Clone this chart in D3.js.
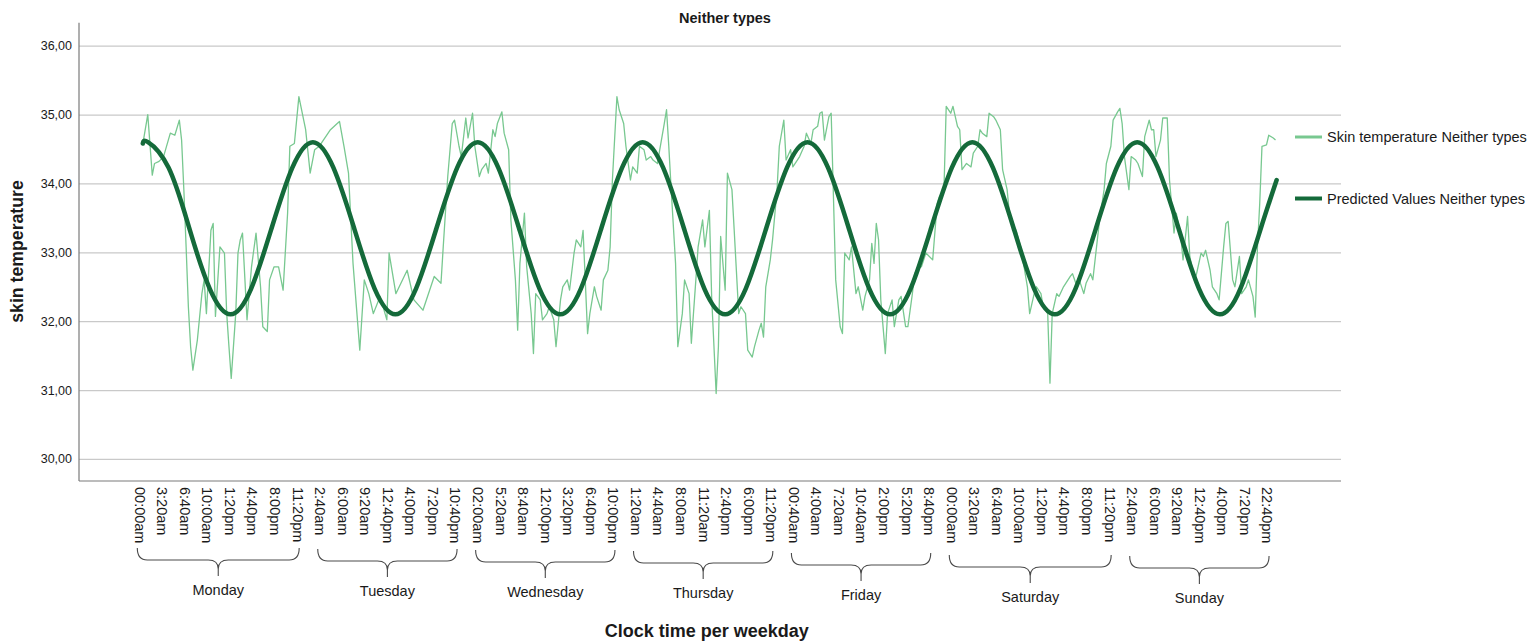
<!DOCTYPE html>
<html><head><meta charset="utf-8">
<script src="https://cdn.jsdelivr.net/npm/d3@7"></script>
<style>
body{margin:0;background:#fff}
svg{display:block}
text{font-family:"Liberation Sans",Arial,sans-serif;fill:#1a1a1a}
</style>
</head><body>
<svg id="chart" width="1533" height="644"></svg>
<script>
// ---------------- DATA ----------------
const chartTitle = "Neither types";
const yTitle = "skin temperature";
const xTitle = "Clock time per weekday";
const yTicks = [30, 31, 32, 33, 34, 35, 36];
const seriesNames = ["Skin temperature Neither types", "Predicted Values Neither types"];
const dayNames = ["Monday", "Tuesday", "Wednesday", "Thursday", "Friday", "Saturday", "Sunday"];
// category tick labels (one every 10 categories of 20 minutes)
const monLabels = ["00:00am","3:20am","6:40am","10:00am","1:20pm","4:40pm","8:00pm","11:20pm"];
const tueLabels = ["2:40am","6:00am","9:20am","12:40pm","4:00pm","7:20pm","10:40pm"];
const wedLabels = ["02:00am","5:20am","8:40am","12:00pm","3:20pm","6:40pm","10:00pm"];
const thuLabels = ["1:20am","4:40am","8:00am","11:20am","2:40pm","6:00pm","11:20pm"];
const friLabels = ["00:40am","4:00am","7:20am","10:40am","2:00pm","5:20pm","8:40pm"];
const satLabels = ["00:00am","3:20am","6:40am","10:00am","1:20pm","4:40pm","8:00pm","11:20pm"];
const sunLabels = ["2:40am","6:00am","9:20am","12:40pm","4:00pm","7:20pm","22:40pm"];
const dayLabels = [monLabels, tueLabels, wedLabels, thuLabels, friLabels, satLabels, sunLabels];

// skin temperature: [category index, value]
const skinMon = [[1,34.61],[3,35.0],[5,34.12],[6,34.29],[8,34.32],[10,34.39],[13,34.73],[15,34.70],[17,34.92],[18,34.63],[19,33.91],[20,33.08],[21,32.21],[22,31.63],[23,31.29],[25,31.73],[27,32.40],[28,32.60],[29,32.11],[31,33.32],[32,33.42],[33,32.07],[35,33.08],[37,32.99],[38,32.11],[39,31.63],[40,31.17],[42,32.11],[43,32.99],[44,33.18],[45,33.28],[47,32.02],[49,32.79],[51,33.28],[53,32.50],[54,31.92],[56,31.85],[57,32.60],[59,32.79],[61,32.79],[63,32.45],[65,33.57],[66,34.54],[68,34.58],[70,35.26]];
const skinTue = [[73,34.78],[75,34.15],[77,34.49],[79,34.54],[84,34.78],[87,34.87],[88,34.90],[90,34.54],[92,34.15],[94,32.84],[97,31.58],[99,32.60],[101,32.40],[103,32.11],[106,32.36],[109,32.02],[110,32.99],[113,32.40],[118,32.74],[121,32.31],[125,32.16],[130,32.65],[133,32.55],[134,33.08],[136,34.10],[138,34.87],[139,34.92],[141,34.54],[142,34.39]];
const skinWed = [[144,34.95],[145,34.66],[147,35.02],[148,34.54],[150,34.10],[151,34.20],[153,34.29],[154,34.15],[156,34.78],[157,34.68],[158,34.87],[160,35.04],[161,34.73],[163,34.49],[164,33.47],[166,32.60],[167,31.87],[168,32.84],[170,33.57],[171,32.79],[173,32.11],[174,31.53],[175,32.40],[177,32.31],[178,32.02],[180,32.11],[181,32.21],[183,32.02],[184,31.63],[186,32.31],[187,32.50],[189,32.60],[190,32.45],[192,32.99],[193,33.18],[195,33.08],[196,33.32],[198,31.82],[199,32.11],[201,32.50],[202,32.36],[204,32.16],[205,32.60],[207,32.74],[208,33.08],[209,34.05],[211,35.26],[212,35.07],[214,34.87],[215,34.54]];
const skinThu = [[217,34.05],[218,34.24],[220,34.15],[221,34.54],[223,34.49],[224,34.34],[226,34.39],[227,34.34],[229,34.29],[230,34.49],[232,34.87],[233,35.07],[234,34.54],[235,33.95],[237,32.84],[238,31.63],[240,32.11],[241,32.60],[243,32.40],[244,31.68],[246,32.60],[247,33.08],[249,33.47],[250,33.08],[252,33.61],[253,32.36],[255,30.95],[256,31.63],[257,33.23],[259,32.45],[260,34.15],[262,33.91],[263,33.32],[265,32.11],[266,32.21],[268,32.11],[269,31.58],[271,31.48],[272,31.63],[274,31.87],[275,31.97],[276,31.77],[277,32.50],[279,32.89],[280,33.18],[282,33.91],[283,34.54],[285,34.92],[286,34.34]];
const skinFri = [[288,34.49],[289,34.24],[291,34.34],[292,34.39],[294,34.54],[295,34.73],[297,34.58],[298,34.78],[300,34.83],[301,35.02],[302,35.04],[303,34.63],[305,34.97],[306,35.02],[307,33.81],[308,32.60],[310,31.92],[311,31.82],[312,32.99],[314,32.89],[315,33.08],[317,32.40],[318,32.50],[320,32.16],[321,32.36],[323,32.60],[324,33.13],[325,32.84],[326,33.42],[327,33.18],[328,32.31],[330,31.53],[331,32.11],[333,32.31],[334,31.92],[336,32.31],[337,32.36],[339,31.92],[340,31.92],[342,32.40],[343,32.69],[345,32.79],[346,32.79],[348,32.99],[351,32.89],[353,33.71],[354,33.81],[356,33.91],[357,35.12],[359,35.02]];
const skinSat = [[360,35.12],[362,34.83],[363,34.78],[364,34.20],[366,34.29],[368,34.24],[369,34.44],[371,34.54],[372,34.78],[373,34.73],[375,34.68],[376,35.02],[378,34.97],[379,34.92],[381,34.78],[382,34.20],[384,33.91],[385,33.57],[387,33.37],[388,33.32],[390,33.08],[391,32.89],[393,32.50],[394,32.11],[396,32.40],[397,32.50],[399,32.40],[400,32.21],[402,32.11],[403,31.10],[404,32.11],[406,32.40],[407,32.36],[409,32.50],[410,32.55],[412,32.65],[413,32.69],[415,32.50],[416,32.60],[418,32.40],[419,32.55],[421,32.69],[422,32.60],[424,33.18],[425,33.47],[427,33.91],[428,34.29],[430,34.54],[431,34.92]];
const skinSun = [[433,35.04],[434,35.09],[435,34.87],[436,34.39],[438,33.91],[439,34.39],[441,34.34],[442,34.29],[444,34.10],[445,34.68],[447,34.92],[448,34.78],[449,34.78],[450,34.39],[452,34.63],[453,34.95],[455,34.95],[456,34.05],[458,33.28],[459,33.57],[461,33.23],[462,32.89],[464,33.52],[465,32.94],[467,32.60],[468,32.69],[470,32.99],[471,32.94],[472,33.03],[474,32.74],[475,32.50],[477,32.40],[478,32.31],[480,33.08],[481,33.42],[482,33.45],[484,32.60],[485,32.50],[487,32.94],[488,32.40],[490,32.50],[491,32.60],[493,32.36],[494,32.06],[495,33.08],[496,33.71],[497,34.54],[499,34.56],[500,34.70],[502,34.66],[503,34.63]];

// predicted (cosinor fit) values read at category positions
const predIdx = [0.8,3.1,12.2,21.4,30.5,39.7,48.8,57.9,67.1,76.2,85.3,94.5,103.6,112.8,121.9,131.0,140.2,149.3,158.4,167.6,176.7,185.9,195.0,204.1,213.3,222.4,231.5,240.7,249.8,259.0,268.1,277.2,286.4,295.5,304.6,313.8,322.9,332.1,341.2,350.3,359.5,368.6,377.7,386.9,396.0,405.2,414.3,423.4,432.6,441.7,450.8,460.0,469.1,478.3,487.4,496.5,503.5];
const predVal = [34.58,
  34.60,34.23,33.35,32.47,32.10,32.47,33.35,34.23,
  34.60,34.23,33.35,32.47,32.10,32.47,33.35,34.23,
  34.60,34.23,33.35,32.47,32.10,32.47,33.35,34.23,
  34.60,34.23,33.35,32.47,32.10,32.47,33.35,34.23,
  34.60,34.23,33.35,32.47,32.10,32.47,33.35,34.23,
  34.60,34.23,33.35,32.47,32.10,32.47,33.35,34.23,
  34.60,34.23,33.35,32.47,32.10,32.47,33.35,
  34.05];

// ---------------- LAYOUT ----------------
const svg = d3.select("#chart");
const P = {left: 79, right: 1341, top: 22.7, bottom: 481};
const x = d3.scaleLinear().domain([0, 504]).range([141, 141 + 504 * 2.2555]);
const y = d3.scaleLinear().domain([29.68, 36.334]).range([P.bottom, P.top]);
const labelShift = 1.7;
const lightGreen = "#78c890", darkGreen = "#146a3a";

svg.append("rect").attr("width", 1533).attr("height", 644).attr("fill", "#fff");

// y axis with gridlines
const yAxis = d3.axisLeft(y).tickValues(yTicks)
  .tickSize(-(P.right - P.left)).tickPadding(7)
  .tickFormat(d => d3.format(".2f")(d).replace(".", ","));
const gy = svg.append("g").attr("transform", `translate(${P.left},0)`).call(yAxis);
gy.select(".domain").remove();
gy.selectAll(".tick line").attr("stroke", "#c9c9c9").attr("stroke-width", 1.2);
gy.selectAll(".tick text").style("font-size", "12.5px").attr("fill", "#222")
  .style("font-family", '"Liberation Sans",Arial,sans-serif');

// axis lines
svg.append("line").attr("x1", P.left).attr("x2", P.left).attr("y1", P.top).attr("y2", P.bottom)
  .attr("stroke", "#7a7a7a").attr("stroke-width", 1.2);
svg.append("line").attr("x1", P.left).attr("x2", P.right).attr("y1", P.bottom).attr("y2", P.bottom)
  .attr("stroke", "#7a7a7a").attr("stroke-width", 1.2);

// x axis tick labels
const allLabels = dayLabels.flat();
const tickIdx = allLabels.map((_, k) => k * 10);
const xAxis = d3.axisBottom(x).tickValues(tickIdx).tickSize(0).tickPadding(0)
  .tickFormat((d, k) => allLabels[k]);
const gx = svg.append("g").attr("transform", `translate(0,${P.bottom})`).call(xAxis);
gx.select(".domain").remove();
gx.selectAll(".tick text")
  .attr("transform", "rotate(90)")
  .attr("x", 6).attr("y", labelShift).attr("dy", "0.35em")
  .attr("text-anchor", "start")
  .attr("fill", "#1a1a1a")
  .style("font-size", "14.5px")
  .style("font-family", '"Liberation Sans",Arial,sans-serif');

// day braces
const braceTop = [548, 549, 550, 551, 553, 555, 556];
let start = 0;
dayLabels.forEach((labs, d) => {
  const x1 = x(start * 10) - labelShift - 2;
  const x2 = x((start + labs.length - 1) * 10) - labelShift + 2;
  const cx = (x1 + x2) / 2;
  const y0 = braceTop[d], yh = y0 + 12, yt = y0 + 28;
  const p = d3.path();
  p.moveTo(x1, y0);
  p.quadraticCurveTo(x1, yh, x1 + 10, yh);
  p.lineTo(cx - 10, yh);
  p.quadraticCurveTo(cx, yh, cx, yh + 9);
  p.lineTo(cx, yt);
  p.moveTo(cx, yh + 9);
  p.quadraticCurveTo(cx, yh, cx + 10, yh);
  p.lineTo(x2 - 10, yh);
  p.quadraticCurveTo(x2, yh, x2, y0);
  svg.append("path").attr("d", p.toString()).attr("fill", "none")
    .attr("stroke", "#4a4a4a").attr("stroke-width", 1.1);
  svg.append("text").attr("x", cx).attr("y", yt + 14).attr("dy", "0.35em")
    .attr("text-anchor", "middle").style("font-size", "14.5px").text(dayNames[d]);
  start += labs.length;
});

// lines
const skin = [].concat(skinMon, skinTue, skinWed, skinThu, skinFri, skinSat, skinSun);
svg.append("path").datum(skin)
  .attr("fill", "none").attr("stroke", lightGreen).attr("stroke-width", 1.3)
  .attr("stroke-linejoin", "round")
  .attr("d", d3.line().x(d => x(d[0])).y(d => y(d[1])));

const pred = predIdx.map((v, k) => [v, predVal[k]]);
svg.append("path").datum(pred)
  .attr("fill", "none").attr("stroke", darkGreen).attr("stroke-width", 4.5)
  .attr("stroke-linecap", "round")
  .attr("d", d3.line().curve(d3.curveNatural).x(d => x(d[0])).y(d => y(d[1])));

// titles
svg.append("text").attr("x", 725).attr("y", 23).attr("text-anchor", "middle")
  .style("font-size", "14.5px").style("font-weight", "bold").text(chartTitle);
svg.append("text").attr("transform", "translate(23.3,251.5) rotate(-90)")
  .attr("text-anchor", "middle").style("font-size", "17.7px").style("font-weight", "bold").text(yTitle);
svg.append("text").attr("x", 706.7).attr("y", 636.5).attr("text-anchor", "middle")
  .style("font-size", "18px").style("font-weight", "bold").text(xTitle);

// legend
const legend = [{name: seriesNames[0], color: lightGreen, w: 3, y: 137},
                {name: seriesNames[1], color: darkGreen, w: 4, y: 198.5}];
legend.forEach(l => {
  svg.append("line").attr("x1", 1295).attr("x2", 1322).attr("y1", l.y).attr("y2", l.y)
    .attr("stroke", l.color).attr("stroke-width", l.w);
  svg.append("text").attr("x", 1327).attr("y", l.y).attr("dy", "0.35em")
    .style("font-size", "14.5px").text(l.name);
});
</script>
</body></html>
